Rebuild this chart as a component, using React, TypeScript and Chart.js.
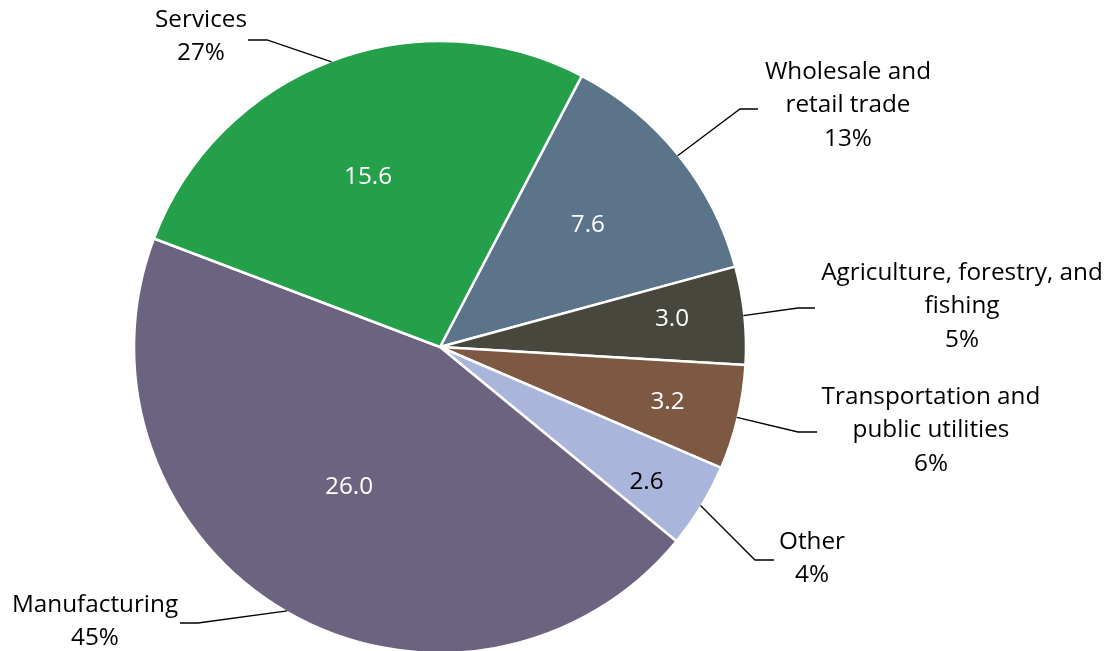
import React, { useEffect, useRef } from "react";
import { Chart, registerables } from "chart.js";

Chart.register(...registerables);

// ---- data ----
const categories = [
  "Wholesale and retail trade",
  "Agriculture, forestry, and fishing",
  "Transportation and public utilities",
  "Other",
  "Manufacturing",
  "Services",
];
const values = [7.6, 3.0, 3.2, 2.6, 26.0, 15.6];

// ---- style / layout ----
const colors = ["#5B7489", "#48473D", "#7D5842", "#AAB5DB", "#6C6380", "#24A04A"];
const valueTextColors = ["#FFFFFF", "#FFFFFF", "#FFFFFF", "#000000", "#FFFFFF", "#FFFFFF"];
const valueLabelRadius = [0.628, 0.764, 0.764, 0.804, 0.543, 0.606];
const valueLabelAngleShift = [-0.9, -1.1, 0, 1.6, 3.1, -2.0]; // degrees
const outerLabelLines = [
  ["Wholesale and", "retail trade"],
  ["Agriculture, forestry, and", "fishing"],
  ["Transportation and", "public utilities"],
  ["Other"],
  ["Manufacturing"],
  ["Services"],
];
// text centre x, first line y
const outerLabelPos = [
  [848, 71],
  [962, 272],
  [931, 396],
  [812, 541],
  [95, 604],
  [201, 19],
];
// leader elbow and end
const leaderElbow = [
  [740, 109],
  [798, 308],
  [798, 432],
  [755, 560],
  [198, 623],
  [267, 40],
];
const leaderEnd = [
  [758, 109],
  [815, 308],
  [817, 432],
  [774, 560],
  [180, 623],
  [248, 40],
];
const FONT = '24.3px "Open Sans"';
const LINE_H = 33.5;

const labelPlugin = {
  id: "pieLabels",
  afterDatasetsDraw(chart: any) {
    const ctx = chart.ctx;
    const meta = chart.getDatasetMeta(0);
    const data = chart.data.datasets[0].data as number[];
    const total = data.reduce((a, b) => a + b, 0);
    ctx.save();
    ctx.font = FONT;
    ctx.textAlign = "center";
    ctx.textBaseline = "middle";
    meta.data.forEach((arc: any, i: number) => {
      const { x, y, startAngle, endAngle, outerRadius } = arc.getProps(
        ["x", "y", "startAngle", "endAngle", "outerRadius"],
        true
      );
      const mid = (startAngle + endAngle) / 2;
      // value label
      const r = outerRadius * valueLabelRadius[i];
      const a = mid + (valueLabelAngleShift[i] * Math.PI) / 180;
      ctx.fillStyle = valueTextColors[i];
      ctx.fillText(data[i].toFixed(1), x + Math.cos(a) * r, y + Math.sin(a) * r + 1);
      // leader line
      ctx.strokeStyle = "#000";
      ctx.lineWidth = 1.3;
      ctx.beginPath();
      ctx.moveTo(x + Math.cos(mid) * (outerRadius - 1), y + Math.sin(mid) * (outerRadius - 1));
      ctx.lineTo(leaderElbow[i][0], leaderElbow[i][1]);
      ctx.lineTo(leaderEnd[i][0], leaderEnd[i][1]);
      ctx.stroke();
      // outer label
      ctx.fillStyle = "#000";
      const lines = [...outerLabelLines[i], Math.round((data[i] / total) * 100) + "%"];
      lines.forEach((t, k) => {
        ctx.fillText(t, outerLabelPos[i][0], outerLabelPos[i][1] + k * LINE_H + 1);
      });
    });
    ctx.restore();
  },
};

export default function App() {
  const ref = useRef<HTMLCanvasElement>(null);
  useEffect(() => {
    if (!ref.current) return;
    const chart = new Chart(ref.current, {
      type: "pie",
      data: {
        labels: categories,
        datasets: [
          {
            data: values,
            backgroundColor: colors,
            borderColor: "#FFFFFF",
            borderWidth: 2.5,
            radius: 306,
          } as any,
        ],
      },
      options: {
        responsive: false,
        animation: false,
        devicePixelRatio: 1,
        rotation: 27.6,
        layout: { padding: { top: 43, bottom: 0, left: 0, right: 228 } },
        plugins: {
          legend: { display: false },
          tooltip: { enabled: false },
        },
      },
      plugins: [labelPlugin],
    });
    return () => chart.destroy();
  }, []);
  return (
    <div style={{ position: "absolute", left: 0, top: 0, width: 1108, height: 651, background: "#fff" }}>
      <canvas ref={ref} width={1108} height={651} />
    </div>
  );
}
